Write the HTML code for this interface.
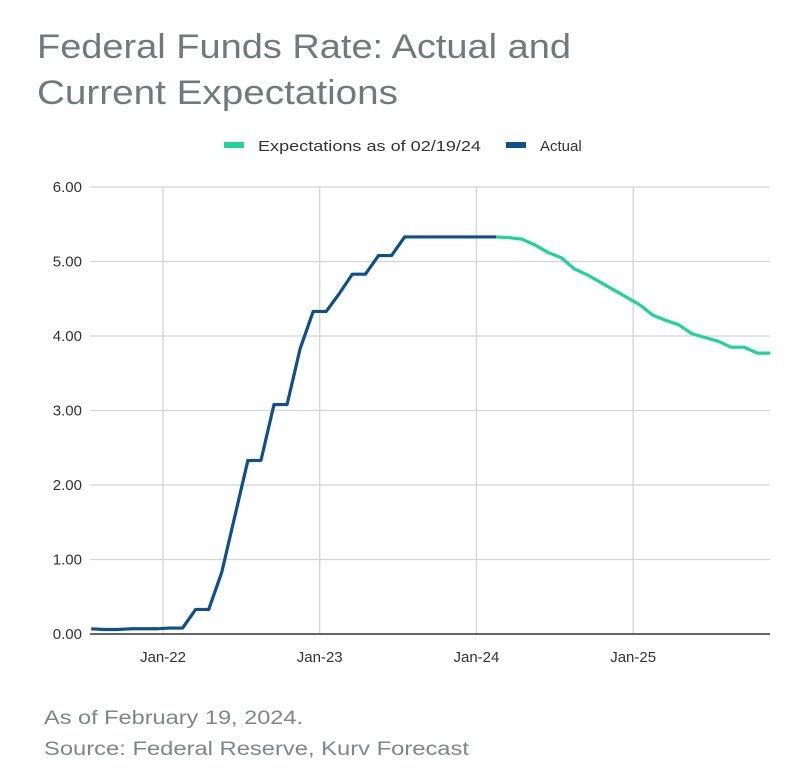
<!DOCTYPE html>
<html><head><meta charset="utf-8"><style>
html,body{margin:0;padding:0;background:#fff;}
svg{display:block;font-family:"Liberation Sans",sans-serif;}
</style></head><body>
<svg id="chart" width="798" height="778" viewBox="0 0 798 778">
<text x="37" y="58" font-size="34" fill="#6f7b7b" textLength="534" lengthAdjust="spacingAndGlyphs">Federal Funds Rate: Actual and</text>
<text x="37" y="104" font-size="34" fill="#6f7b7b" textLength="361" lengthAdjust="spacingAndGlyphs">Current Expectations</text>
<g>
<rect x="224" y="142" width="20" height="6" fill="#1fd49a"/>
<text x="258" y="151" font-size="15" fill="#333" textLength="223" lengthAdjust="spacingAndGlyphs">Expectations as of 02/19/24</text>
<rect x="506" y="142" width="20" height="6" fill="#0f4f8c"/>
<text x="540" y="151" font-size="15" fill="#333">Actual</text>
</g>
<g id="grid"></g><g id="series"></g>
<text x="44" y="724" font-size="19" fill="#7d8787" textLength="259" lengthAdjust="spacingAndGlyphs">As of February 19, 2024.</text>
<text x="44" y="755" font-size="19" fill="#7d8787" textLength="425" lengthAdjust="spacingAndGlyphs">Source: Federal Reserve, Kurv Forecast</text>
</svg>
<script>
const yTicks = [0,1,2,3,4,5,6];
const xTickLabels = ["Jan-22","Jan-23","Jan-24","Jan-25"];
const xTickMonths = [0,12,24,36];
const actualValues = [0.07,0.06,0.06,0.07,0.07,0.07,0.08,0.08,0.33,0.33,0.83,1.58,2.33,2.33,3.08,3.08,3.83,4.33,4.33,4.57,4.83,4.83,5.08,5.08,5.33,5.33,5.33,5.33,5.33,5.33,5.33,5.33];
const expectValues = [5.33,5.32,5.30,5.22,5.12,5.05,4.90,4.82,4.72,4.62,4.52,4.42,4.28,4.21,4.15,4.03,3.98,3.93,3.85,3.85,3.77,3.77];
const startMonth = -5.5;
const expectStartIndex = 31;

const NS="http://www.w3.org/2000/svg";
const L=90,R=770,T=187,B=634;
function yS(v){return B-(v/6)*(B-T);}
function xS(i){const m=startMonth+i;return 163+m*13.06;}
function xM(m){return 163+m*13.06;}
function mk(tag,attrs,parent){const e=document.createElementNS(NS,tag);for(const k in attrs)e.setAttribute(k,attrs[k]);parent.appendChild(e);return e;}
const grid=document.getElementById('grid'), series=document.getElementById('series');
yTicks.forEach(v=>{
  if(v>0){const l=mk('line',{x1:L,x2:R,y1:yS(v),y2:yS(v),stroke:'#d4d4d4','stroke-width':1.3},grid);
  
  }
  const t=mk('text',{x:82,y:yS(v)+5,'font-size':15,fill:'#333','text-anchor':'end'},grid);
  t.textContent=v.toFixed(2);
  
  
});
xTickMonths.forEach((m,i)=>{
  const l=mk('line',{x1:xM(m),x2:xM(m),y1:T,y2:B,stroke:'#d4d4d4','stroke-width':1.3},grid);
  
  
  const t=mk('text',{x:xM(m),y:662,'font-size':15,fill:'#333','text-anchor':'middle'},grid);
  t.textContent=xTickLabels[i];
  
  
});
const ax=mk('line',{x1:L,x2:R,y1:B,y2:B,stroke:'#333','stroke-width':1.5},grid);


const pe=mk('polyline',{points:expectValues.map((v,i)=>xS(i+expectStartIndex)+','+yS(v)).join(' '),fill:'none',stroke:'#1fd49a','stroke-width':3.2,'stroke-linejoin':'round'},series);


const pa=mk('polyline',{points:actualValues.map((v,i)=>xS(i)+','+yS(v)).join(' '),fill:'none',stroke:'#0f4f8c','stroke-width':3.2,'stroke-linejoin':'round'},series);


</script>
</body></html>
